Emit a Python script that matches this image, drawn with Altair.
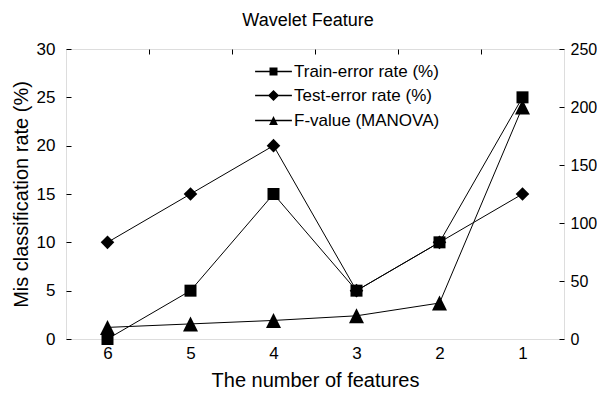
import altair as alt
import pandas as pd

features = [6, 5, 4, 3, 2, 1]
train = [0, 5, 15, 5, 10, 25]
test = [10, 15, 20, 5, 10, 15]
fvalue = [10, 13, 16, 20, 31, 200]

s_train = "Train-error rate (%)"
s_test = "Test-error rate (%)"
s_f = "F-value (MANOVA)"
series_order = [s_train, s_test, s_f]

left_df = pd.DataFrame({
    "n": features * 2,
    "value": train + test,
    "series": [s_train] * 6 + [s_test] * 6,
})
right_df = pd.DataFrame({"n": features, "value": fvalue, "series": [s_f] * 6})
all_df = pd.concat([left_df, right_df], ignore_index=True)

FONT = "Liberation Sans"
W, H = 498, 290

xscale = alt.Scale(domain=[0.5, 6.5], reverse=True, nice=False, zero=False)

mark_shapes = alt.Scale(
    domain=series_order,
    range=["square", "diamond", "M0,-1L1,1L-1,1Z"],
)
mark_sizes = alt.Scale(domain=series_order, range=[144, 225, 169])

x_label_axis = alt.Axis(
    values=features, format="d", ticks=False, domain=False, grid=False,
    labelPadding=6, labelFontSize=17, labelColor="black", labelFont=FONT,
    title="The number of features", titleFontSize=20, titleFont=FONT,
    titleFontWeight="normal", titleColor="black", titlePadding=9,
)
x_tick_axis = alt.Axis(
    values=[1.5, 2.5, 3.5, 4.5, 5.5], labels=False, domain=False, grid=False,
    tickSize=5, offset=-5, tickColor="black", title=None,
)

left_lines = alt.Chart(left_df).mark_line(color="black", strokeWidth=1).encode(
    x=alt.X("n:Q", scale=xscale, axis=x_label_axis),
    y=alt.Y("value:Q", scale=alt.Scale(domain=[0, 30], nice=False),
            axis=alt.Axis(values=[0, 5, 10, 15, 20, 25, 30], orient="left",
                          domain=False, grid=False, tickSize=5, offset=-5,
                          tickColor="black", labelPadding=11, labelFontSize=17,
                          labelFont=FONT, labelColor="black",
                          title="Mis classification rate (%)", titleFontSize=20,
                          titleFont=FONT, titleFontWeight="normal",
                          titleColor="black", titlePadding=5)),
    detail="series:N",
)
left_points = alt.Chart(left_df).mark_point(filled=True, color="black", opacity=1).encode(
    x=alt.X("n:Q", scale=xscale),
    y=alt.Y("value:Q"),
    shape=alt.Shape("series:N", scale=mark_shapes, legend=None),
    size=alt.Size("series:N", scale=mark_sizes, legend=None),
)
left_layer = alt.layer(left_lines, left_points)

right_lines = alt.Chart(right_df).mark_line(color="black", strokeWidth=1).encode(
    x=alt.X("n:Q", scale=xscale, axis=x_tick_axis),
    y=alt.Y("value:Q", scale=alt.Scale(domain=[0, 250], nice=False),
            axis=alt.Axis(values=[0, 50, 100, 150, 200, 250], orient="right",
                          domain=False, grid=False, tickSize=5, offset=-5,
                          tickColor="black", labelPadding=6, labelFontSize=16,
                          labelFont=FONT, labelColor="black", title=None)),
)
right_points = alt.Chart(right_df).mark_point(filled=True, color="black", opacity=1).encode(
    x=alt.X("n:Q", scale=xscale),
    y=alt.Y("value:Q"),
    shape=alt.Shape("series:N", scale=mark_shapes, legend=None),
    size=alt.Size("series:N", scale=mark_sizes, legend=None),
)
right_layer = alt.layer(right_lines, right_points)

legend_shapes = alt.Scale(
    domain=series_order,
    range=[
        "M-4.6,-0.16H4.6V0.16H-4.6ZM-1,-1H1V1H-1Z",
        "M-4.6,-0.16H4.6V0.16H-4.6ZM0,-1.4L1.4,0L0,1.4L-1.4,0Z",
        "M-4.6,-0.16H4.6V0.16H-4.6ZM0,-1.1L1.1,1.1L-1.1,1.1Z",
    ],
)
legend_layer = alt.Chart(all_df).mark_point(
    filled=True, color="black", opacity=0
).encode(
    x=alt.X("n:Q", scale=xscale, axis=None),
    y=alt.Y("value:Q", axis=None),
    shape=alt.Shape(
        "series:N", scale=legend_shapes,
        legend=alt.Legend(
            title=None, orient="none", legendX=199, legendY=14, padding=0,
            symbolSize=64, symbolFillColor="black", symbolOpacity=1,
            labelFontSize=17, labelFont=FONT, labelColor="black",
            labelOffset=12, rowPadding=6,
        ),
    ),
)

chart = alt.layer(left_layer, right_layer, legend_layer).resolve_scale(
    y="independent", shape="independent", size="independent"
).resolve_axis(x="independent").properties(
    width=W, height=H,
    title=alt.TitleParams("Wavelet Feature", fontSize=18, fontWeight="normal",
                          font=FONT, color="black", offset=10, dx=-7),
    autosize=alt.AutoSizeParams(type="none"),
    padding={"left": 58, "top": 41, "right": 33, "bottom": 54},
).configure_view(stroke="black", strokeWidth=1).configure(font=FONT)

chart.save("out.html", embed_options={"renderer": "svg", "actions": False})
